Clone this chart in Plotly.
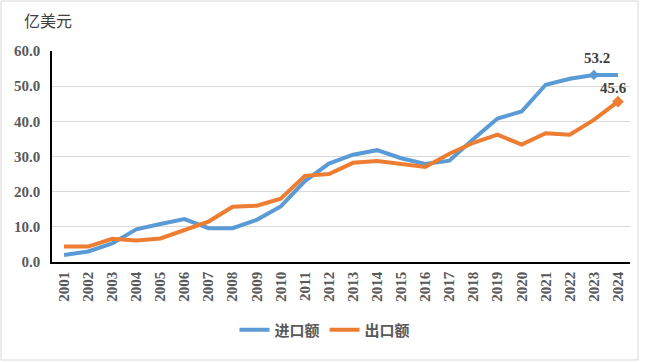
import plotly.graph_objects as go

years = [str(y) for y in range(2001, 2025)]
imports = [2.0, 3.0, 5.3, 9.3, 10.8, 12.2, 9.6, 9.6, 12.0, 15.8, 23.0, 28.0,
           30.5, 31.8, 29.5, 27.9, 28.8, 35.0, 40.8, 42.8, 50.4, 52.1, 53.2, 53.2]
exports = [4.4, 4.4, 6.6, 6.1, 6.7, 9.0, 11.5, 15.7, 16.0, 18.0, 24.5, 25.0,
           28.2, 28.7, 27.8, 27.0, 30.8, 33.9, 36.2, 33.4, 36.6, 36.2, 40.4, 45.6]
y_ticks = [0, 10, 20, 30, 40, 50, 60]
series_names = ["进口额", "出口额"]
unit_label = "亿美元"

BLUE = "#5B9BD5"
ORANGE = "#ED7D31"
serif_bold = dict(family="Liberation Serif", size=15, color="#595959", weight="bold")

fig = go.Figure()
fig.add_trace(go.Scatter(x=years, y=imports, mode="lines", name=series_names[0],
                         line=dict(color=BLUE, width=4)))
fig.add_trace(go.Scatter(x=years, y=exports, mode="lines", name=series_names[1],
                         line=dict(color=ORANGE, width=4)))
# highlighted points
fig.add_trace(go.Scatter(x=[years[-2]], y=[imports[-2]], mode="markers", showlegend=False,
                         marker=dict(symbol="diamond", size=8, color=BLUE)))
fig.add_trace(go.Scatter(x=[years[-1]], y=[exports[-1]], mode="markers", showlegend=False,
                         marker=dict(symbol="diamond", size=9, color=ORANGE)))

ann_font = dict(family="Liberation Serif", size=15, color="#404040", weight="bold")
n = len(years)
annotations = [
    dict(x=n - 2, y=imports[-2], xref="x", yref="y", text=f"{imports[-2]:.1f}",
         showarrow=False, yshift=17, xshift=3, font=ann_font),
    dict(x=n - 1, y=exports[-1], xref="x", yref="y", text=f"{exports[-1]:.1f}",
         showarrow=False, yshift=14, xshift=-4, font=ann_font),
    dict(x=(22 - 52) / 578, y=(262 - 20) / 211, xref="paper", yref="paper",
         text=unit_label, showarrow=False, xanchor="left", yanchor="middle",
         font=dict(family="Noto Sans CJK SC", size=16, color="#404040")),
]

fig.update_layout(
    width=646, height=362,
    margin=dict(l=52, r=16, t=51, b=100, autoexpand=False),
    paper_bgcolor="white", plot_bgcolor="white",
    showlegend=True,
    legend=dict(orientation="h", x=(325 - 52) / 578, xanchor="center",
                y=(262 - 330) / 211, yanchor="middle",
                font=dict(family="Noto Sans CJK SC", size=15, color="#595959", weight="bold"),
                itemwidth=30, tracegroupgap=0, bgcolor="rgba(0,0,0,0)"),
    annotations=annotations,
    shapes=[dict(type="rect", xref="paper", yref="paper",
                 x0=-0.0882, x1=1.0138, y0=-0.4645, y1=1.237,
                 line=dict(color="#d9d9d9", width=1), layer="below")],
)
fig.update_xaxes(type="category", range=[-0.5, 23.5], showline=True, linecolor="black",
                 linewidth=1.5, showgrid=False, ticks="", tickangle=-90,
                 tickfont=serif_bold, ticklabelstandoff=2, automargin=False)
fig.update_yaxes(range=[0, 60], tickvals=y_ticks, ticktext=[f"{v:.1f}" for v in y_ticks],
                 showline=True, linecolor="black", linewidth=1.5, showgrid=True,
                 gridcolor="#d9d9d9", gridwidth=1, ticks="", tickfont=serif_bold,
                 zeroline=False, ticklabelstandoff=7, automargin=False)

fig.write_html("out.html", config={"displayModeBar": False},
               post_script="document.body.style.margin='0';document.body.style.overflow='hidden';")
